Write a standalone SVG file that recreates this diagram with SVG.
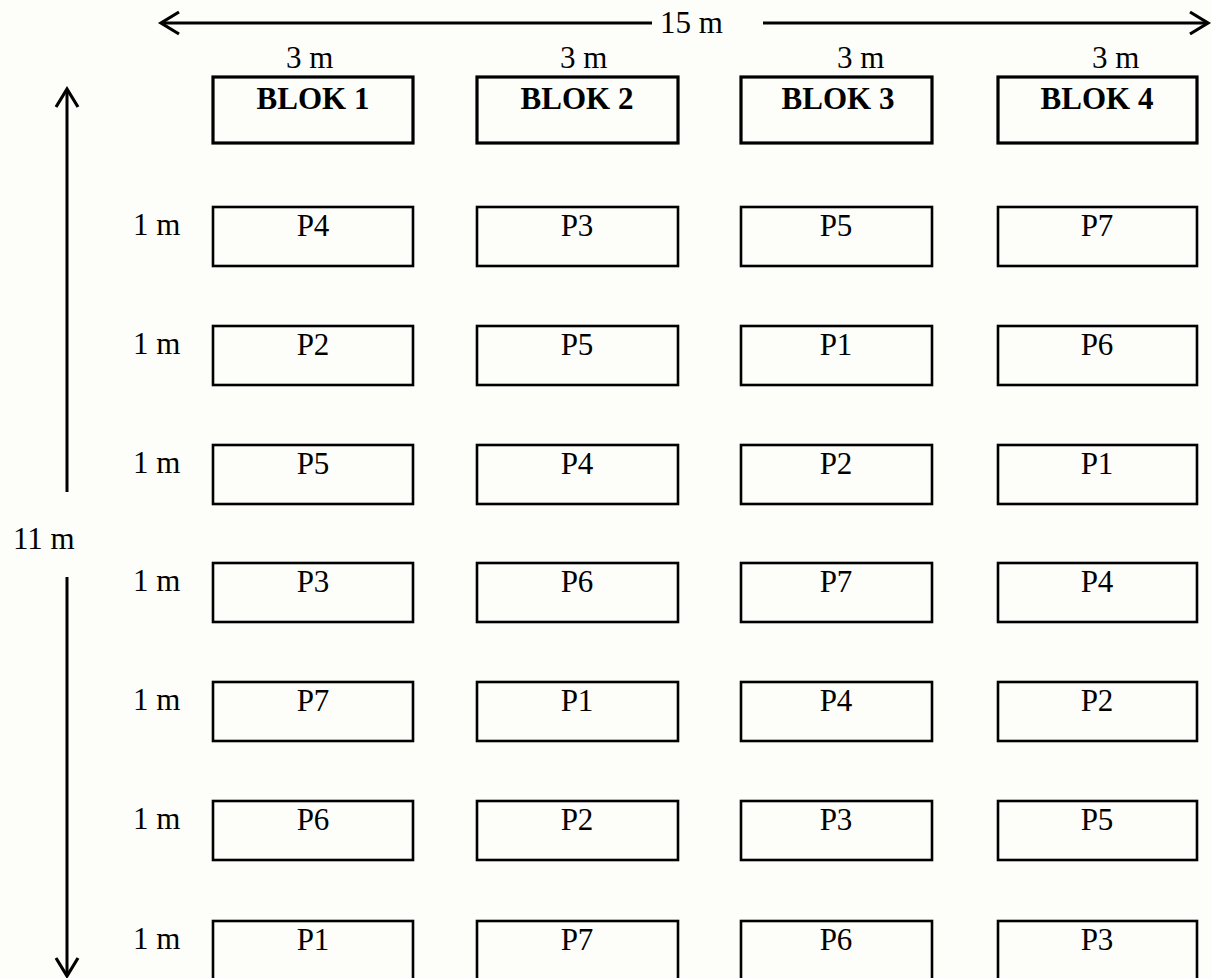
<svg xmlns="http://www.w3.org/2000/svg" width="1212" height="978" viewBox="0 0 1212 978">
<style>
text{font-family:"Liberation Serif","Times New Roman",serif;font-size:31px;fill:#000}
.b{font-weight:bold}
.c{text-anchor:middle}
.blk{fill:none;stroke:#000;stroke-width:3.2}
.plot{fill:none;stroke:#000;stroke-width:2.6}
.ln{fill:none;stroke:#000;stroke-width:3;stroke-linecap:butt}
.hd{fill:none;stroke:#000;stroke-width:3.2;stroke-linejoin:miter}
</style>
<rect width="1212" height="978" fill="#fdfdf9"/>
<g id="connectors">
  <line class="ln" x1="161" y1="23" x2="652" y2="23"/>
  <polyline class="hd" points="179,12 161,23 179,34"/>
  <line class="ln" x1="763" y1="23" x2="1208" y2="23"/>
  <polyline class="hd" points="1190,12 1208,23 1190,34"/>
  <line class="ln" x1="67" y1="90" x2="67" y2="492"/>
  <polyline class="hd" points="56,107 67,89 78,107"/>
  <line class="ln" x1="67" y1="577" x2="67" y2="975"/>
  <polyline class="hd" points="56,958 67,976 78,958"/>
</g>
<g id="dim-labels">
  <text x="660" y="33">15 m</text>
  <text x="13" y="549">11 m</text>
  <text x="286" y="68">3 m</text>
  <text x="560" y="68">3 m</text>
  <text x="837" y="68">3 m</text>
  <text x="1092" y="68">3 m</text>
  <text x="133" y="235">1 m</text>
  <text x="133" y="354">1 m</text>
  <text x="133" y="473">1 m</text>
  <text x="133" y="591">1 m</text>
  <text x="133" y="710">1 m</text>
  <text x="133" y="829">1 m</text>
  <text x="133" y="949">1 m</text>
</g>
<g id="blok1"><rect class="blk" x="213" y="77" width="200" height="66"/><text class="b c" x="313" y="109">BLOK 1</text></g>
<g id="blok2"><rect class="blk" x="477" y="77" width="201" height="66"/><text class="b c" x="577" y="109">BLOK 2</text></g>
<g id="blok3"><rect class="blk" x="741" y="77" width="191" height="66"/><text class="b c" x="838" y="109">BLOK 3</text></g>
<g id="blok4"><rect class="blk" x="998" y="77" width="199" height="66"/><text class="b c" x="1097" y="109">BLOK 4</text></g>

<g id="r1c1"><rect class="plot" x="213" y="207" width="200" height="59"/><text class="c" x="313" y="236">P4</text></g>
<g id="r1c2"><rect class="plot" x="477" y="207" width="201" height="59"/><text class="c" x="577" y="236">P3</text></g>
<g id="r1c3"><rect class="plot" x="741" y="207" width="191" height="59"/><text class="c" x="836" y="236">P5</text></g>
<g id="r1c4"><rect class="plot" x="998" y="207" width="199" height="59"/><text class="c" x="1097" y="236">P7</text></g>

<g id="r2c1"><rect class="plot" x="213" y="326" width="200" height="59"/><text class="c" x="313" y="355">P2</text></g>
<g id="r2c2"><rect class="plot" x="477" y="326" width="201" height="59"/><text class="c" x="577" y="355">P5</text></g>
<g id="r2c3"><rect class="plot" x="741" y="326" width="191" height="59"/><text class="c" x="836" y="355">P1</text></g>
<g id="r2c4"><rect class="plot" x="998" y="326" width="199" height="59"/><text class="c" x="1097" y="355">P6</text></g>

<g id="r3c1"><rect class="plot" x="213" y="445" width="200" height="59"/><text class="c" x="313" y="474">P5</text></g>
<g id="r3c2"><rect class="plot" x="477" y="445" width="201" height="59"/><text class="c" x="577" y="474">P4</text></g>
<g id="r3c3"><rect class="plot" x="741" y="445" width="191" height="59"/><text class="c" x="836" y="474">P2</text></g>
<g id="r3c4"><rect class="plot" x="998" y="445" width="199" height="59"/><text class="c" x="1097" y="474">P1</text></g>

<g id="r4c1"><rect class="plot" x="213" y="563" width="200" height="59"/><text class="c" x="313" y="592">P3</text></g>
<g id="r4c2"><rect class="plot" x="477" y="563" width="201" height="59"/><text class="c" x="577" y="592">P6</text></g>
<g id="r4c3"><rect class="plot" x="741" y="563" width="191" height="59"/><text class="c" x="836" y="592">P7</text></g>
<g id="r4c4"><rect class="plot" x="998" y="563" width="199" height="59"/><text class="c" x="1097" y="592">P4</text></g>

<g id="r5c1"><rect class="plot" x="213" y="682" width="200" height="59"/><text class="c" x="313" y="711">P7</text></g>
<g id="r5c2"><rect class="plot" x="477" y="682" width="201" height="59"/><text class="c" x="577" y="711">P1</text></g>
<g id="r5c3"><rect class="plot" x="741" y="682" width="191" height="59"/><text class="c" x="836" y="711">P4</text></g>
<g id="r5c4"><rect class="plot" x="998" y="682" width="199" height="59"/><text class="c" x="1097" y="711">P2</text></g>

<g id="r6c1"><rect class="plot" x="213" y="801" width="200" height="59"/><text class="c" x="313" y="830">P6</text></g>
<g id="r6c2"><rect class="plot" x="477" y="801" width="201" height="59"/><text class="c" x="577" y="830">P2</text></g>
<g id="r6c3"><rect class="plot" x="741" y="801" width="191" height="59"/><text class="c" x="836" y="830">P3</text></g>
<g id="r6c4"><rect class="plot" x="998" y="801" width="199" height="59"/><text class="c" x="1097" y="830">P5</text></g>

<g id="r7c1"><rect class="plot" x="213" y="921" width="200" height="59"/><text class="c" x="313" y="950">P1</text></g>
<g id="r7c2"><rect class="plot" x="477" y="921" width="201" height="59"/><text class="c" x="577" y="950">P7</text></g>
<g id="r7c3"><rect class="plot" x="741" y="921" width="191" height="59"/><text class="c" x="836" y="950">P6</text></g>
<g id="r7c4"><rect class="plot" x="998" y="921" width="199" height="59"/><text class="c" x="1097" y="950">P3</text></g>
</svg>
